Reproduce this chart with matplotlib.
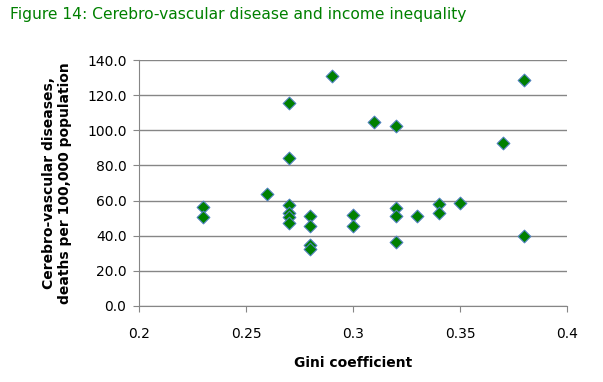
import matplotlib.pyplot as plt

# Gini coefficient vs cerebro-vascular deaths per 100,000
gini = [0.23, 0.23, 0.26, 0.27, 0.27, 0.27, 0.27, 0.27, 0.27,
        0.28, 0.28, 0.28, 0.28, 0.29, 0.30, 0.30, 0.31,
        0.32, 0.32, 0.32, 0.32, 0.33, 0.34, 0.34, 0.35, 0.37, 0.38, 0.38]
deaths = [56.5, 50.8, 63.6, 115.4, 84.0, 57.5, 52.7, 50.5, 47.4,
          51.2, 45.7, 34.7, 32.4, 131.1, 51.8, 45.7, 104.9,
          102.4, 56.0, 51.2, 36.2, 51.4, 58.1, 53.1, 58.4, 93.0, 128.6, 39.8]

x_ticks = [0.2, 0.25, 0.3, 0.35, 0.4]
x_labels = ["0.2", "0.25", "0.3", "0.35", "0.4"]
y_ticks = [0, 20, 40, 60, 80, 100, 120, 140]
y_labels = ["%.1f" % v for v in y_ticks]

fig = plt.figure(figsize=(6.03, 3.82), dpi=100)
ax = fig.add_axes([0.2305, 0.199, 0.7098, 0.6439])

ax.scatter(gini, deaths, marker="D", s=42, color="#008000",
           edgecolors="#4f81bd", linewidths=0.8, zorder=3)

ax.set_xlim(0.2, 0.4)
ax.set_ylim(0, 140)
ax.set_xticks(x_ticks)
ax.set_xticklabels(x_labels)
ax.set_yticks(y_ticks)
ax.set_yticklabels(y_labels)
ax.tick_params(axis="both", labelsize=10, color="#868686", length=4, direction="out")
ax.tick_params(axis="x", pad=11)
ax.tick_params(axis="y", pad=5)
ax.grid(axis="y", color="#868686", linewidth=1)
ax.set_axisbelow(True)
for s in ["top", "right"]:
    ax.spines[s].set_visible(False)
for s in ["left", "bottom"]:
    ax.spines[s].set_color("#868686")

ax.set_xlabel("Gini coefficient", fontsize=10, fontweight="bold", labelpad=11)
ax.set_ylabel("Cerebro-vascular diseases,\ndeaths per 100,000 population",
              fontsize=10, fontweight="bold", labelpad=11)

fig.text(0.017, 0.963, "Figure 14: Cerebro-vascular disease and income inequality",
         fontsize=11.2, color="#008000", va="center", ha="left")

fig.savefig("out.png", dpi=100)
